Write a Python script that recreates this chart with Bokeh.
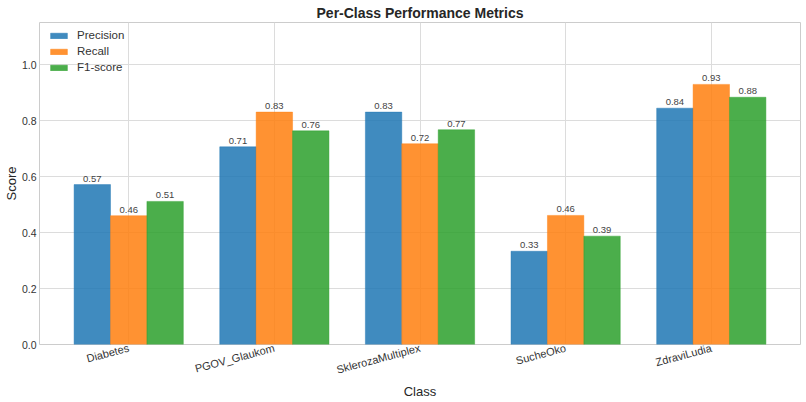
from bokeh.plotting import figure
from bokeh.models import Range1d, FixedTicker, ColumnDataSource, LabelSet, Legend, LegendItem
from bokeh.core.properties import value
from bokeh.embed import file_html
from bokeh.resources import INLINE
import math

classes = ["Diabetes", "PGOV_Glaukom", "SklerozaMultiplex", "SucheOko", "ZdraviLudia"]
precision = [0.571, 0.706, 0.830, 0.333, 0.844]
recall = [0.460, 0.830, 0.717, 0.461, 0.929]
f1 = [0.511, 0.763, 0.767, 0.387, 0.883]
series_names = ["Precision", "Recall", "F1-score"]
colors = ["#1f77b4", "#ff7f0e", "#2ca02c"]
y_ticks = [0.0, 0.2, 0.4, 0.6, 0.8, 1.0]

FONT = "Liberation Sans"
bw = 0.25

p = figure(width=806, height=402, output_backend="svg", toolbar_location=None,
           x_range=Range1d(-0.6125, 4.6125), y_range=Range1d(0, 1.15),
           min_border_left=4, min_border_right=6, min_border_top=4, min_border_bottom=4)

p.title.text = "Per-Class Performance Metrics"
p.title.align = "center"
p.title.text_font = FONT
p.title.text_font_size = "14px"
p.title.text_font_style = "bold"
p.title.text_color = "#262626"
p.title.offset = 0
p.title.standoff = 4

items = []
for i, (name, vals, c) in enumerate(zip(series_names, [precision, recall, f1], colors)):
    xs = [k + (i - 1) * bw for k in range(len(classes))]
    src = ColumnDataSource(dict(x=xs, top=vals, lab=["%.2f" % v for v in vals]))
    r = p.vbar(x="x", top="top", width=bw, source=src, fill_color=c, fill_alpha=0.85,
               line_color=c, line_alpha=0.85, line_width=0.5)
    items.append(LegendItem(label=name, renderers=[r]))
    lbl = LabelSet(x="x", y="top", text="lab", source=src, text_align="center",
                   text_baseline="bottom", y_offset=3, text_font_size="9.5px",
                   text_font=value(FONT), text_color="#444444")
    p.add_layout(lbl)

legend = Legend(items=items, location=(9, 270), border_line_alpha=0,
                background_fill_alpha=0, label_text_font=FONT, label_text_font_size="11.5px",
                label_text_color="#333333", glyph_width=21, glyph_height=7,
                spacing=2, padding=0, margin=0, label_height=14, label_standoff=8)
p.add_layout(legend)

p.xaxis.ticker = FixedTicker(ticks=list(range(len(classes))))
p.xaxis.major_label_overrides = {i: c for i, c in enumerate(classes)}
p.xaxis.major_label_orientation = math.radians(15)
p.yaxis.ticker = FixedTicker(ticks=y_ticks)
p.yaxis.major_label_overrides = {t: "%.1f" % t for t in y_ticks}

for ax in [p.xaxis[0], p.yaxis[0]]:
    ax.axis_line_color = None
    ax.major_tick_line_color = None
    ax.minor_tick_line_color = None
    ax.major_tick_out = 0
    ax.major_tick_in = 0
    ax.major_label_text_font = FONT
    ax.major_label_text_color = "#333333"
    ax.axis_label_text_font = FONT
    ax.axis_label_text_font_size = "13px"
    ax.axis_label_text_font_style = "normal"
    ax.axis_label_text_color = "#262626"

p.xaxis.major_label_text_font_size = "11px"
p.yaxis.major_label_text_font_size = "10.5px"
p.xaxis.major_label_standoff = 3
p.yaxis.major_label_standoff = 3
p.xaxis.axis_label = "Class"
p.yaxis.axis_label = "Score"
p.xaxis.axis_label_standoff = 0
p.yaxis.axis_label_standoff = 0

p.xgrid.ticker = FixedTicker(ticks=list(range(len(classes))))
p.ygrid.ticker = FixedTicker(ticks=y_ticks)
p.grid.grid_line_color = "#dcdcdc"
p.grid.grid_line_width = 1
p.outline_line_color = "#cccccc"
p.outline_line_width = 1
p.background_fill_color = "white"
p.border_fill_color = "white"

open("out.html", "w").write(file_html(p, INLINE))
